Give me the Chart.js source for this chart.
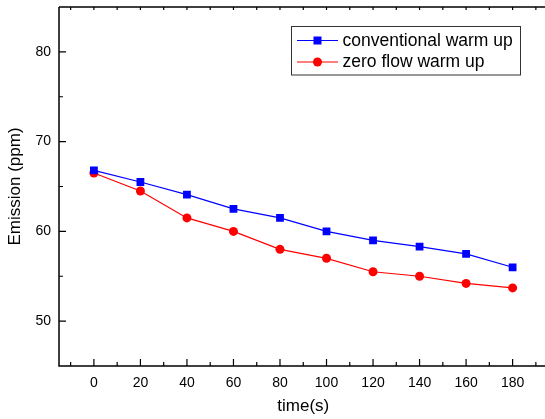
<!DOCTYPE html>
<html>
<head>
<meta charset="utf-8">
<script src="https://cdn.jsdelivr.net/npm/chart.js@4.4.1/dist/chart.umd.min.js"></script>
<style>
  html, body { margin: 0; padding: 0; background: #fff; overflow: hidden; }
</style>
</head>
<body>
<canvas id="graphique" width="553" height="419"></canvas>
<script>
// Données
const temps = [0, 20, 40, 60, 80, 100, 120, 140, 160, 180];
const conventionnel = [66.8, 65.5, 64.1, 62.5, 61.5, 60.0, 59.0, 58.3, 57.5, 56.0];
const debitNul = [66.5, 64.5, 61.5, 60.0, 58.0, 57.0, 55.5, 55.0, 54.2, 53.7];

const xTicks = [0, 20, 40, 60, 80, 100, 120, 140, 160, 180];
const xMinor = [-10, 10, 30, 50, 70, 90, 110, 130, 150, 170, 190];
const yTicks = [50, 60, 70, 80];
const yMinor = [55, 65, 75];

const POLICE = "'Liberation Sans', Arial, sans-serif";
const BLEU = '#0000ff';
const ROUGE = '#ff0000';

// Cadre, graduations vers l'intérieur et légende
const cadre = {
  id: 'cadre',
  afterDraw(chart) {
    const ctx = chart.ctx;
    const a = chart.chartArea;
    const x = chart.scales.x, y = chart.scales.y;
    ctx.save();
    ctx.strokeStyle = '#000';
    ctx.lineWidth = 1.5;
    ctx.beginPath();
    ctx.moveTo(a.left, a.top); ctx.lineTo(a.right, a.top);
    ctx.moveTo(a.left, a.top); ctx.lineTo(a.left, a.bottom);
    ctx.moveTo(a.left - 0.75, a.bottom); ctx.lineTo(a.right, a.bottom);
    ctx.stroke();

    ctx.lineWidth = 1.2;
    ctx.beginPath();
    xTicks.forEach(v => { const p = x.getPixelForValue(v); ctx.moveTo(p, a.bottom); ctx.lineTo(p, a.bottom - 7); });
    xMinor.forEach(v => { const p = x.getPixelForValue(v); ctx.moveTo(p, a.bottom); ctx.lineTo(p, a.bottom - 4); });
    xTicks.concat(xMinor).forEach(v => { const p = x.getPixelForValue(v); ctx.moveTo(p, a.top); ctx.lineTo(p, a.top + 3); });
    yTicks.forEach(v => { const p = y.getPixelForValue(v); ctx.moveTo(a.left, p); ctx.lineTo(a.left + 7, p); });
    yMinor.forEach(v => { const p = y.getPixelForValue(v); ctx.moveTo(a.left, p); ctx.lineTo(a.left + 4, p); });
    ctx.stroke();

    // légende
    ctx.lineWidth = 1;
    ctx.strokeStyle = '#333';
    ctx.fillStyle = '#fff';
    ctx.fillRect(291.5, 26.5, 229, 48.5);
    ctx.strokeRect(291.5, 26.5, 229, 48.5);
    const lignes = [
      { label: 'conventional warm up', couleur: BLEU, carre: true, y: 40.5 },
      { label: 'zero flow warm up', couleur: ROUGE, carre: false, y: 62 },
    ];
    lignes.forEach(l => {
      ctx.strokeStyle = l.couleur;
      ctx.lineWidth = 1.2;
      ctx.beginPath(); ctx.moveTo(297, l.y); ctx.lineTo(338, l.y); ctx.stroke();
      ctx.fillStyle = l.couleur;
      if (l.carre) { ctx.fillRect(313.5, l.y - 4, 8, 8); }
      else { ctx.beginPath(); ctx.arc(317.5, l.y, 4.5, 0, Math.PI * 2); ctx.fill(); }
      ctx.fillStyle = '#000';
      ctx.font = '17.5px ' + POLICE;
      ctx.textBaseline = 'middle';
      ctx.textAlign = 'left';
      ctx.fillText(l.label, 342.5, l.y + 0.5);
    });
    ctx.restore();
  }
};

const ctx = document.getElementById('graphique').getContext('2d');
new Chart(ctx, {
  type: 'line',
  data: {
    labels: temps,
    datasets: [{
      label: 'conventional warm up',
      data: temps.map((t, i) => ({ x: t, y: conventionnel[i] })),
      borderColor: BLEU,
      backgroundColor: BLEU,
      borderWidth: 1.2,
      pointStyle: 'rect',
      pointRadius: 5.5,
      pointBorderWidth: 0,
      tension: 0,
    }, {
      label: 'zero flow warm up',
      data: temps.map((t, i) => ({ x: t, y: debitNul[i] })),
      borderColor: ROUGE,
      backgroundColor: ROUGE,
      borderWidth: 1.2,
      pointStyle: 'circle',
      pointRadius: 4.5,
      pointBorderWidth: 0,
      tension: 0,
    }]
  },
  options: {
    responsive: false,
    animation: false,
    layout: { padding: { top: 7, right: 2, left: 0, bottom: 0 } },
    plugins: { legend: { display: false }, tooltip: { enabled: false } },
    scales: {
      x: {
        type: 'linear',
        min: -15, max: 195,
        afterBuildTicks: s => { s.ticks = xTicks.map(v => ({ value: v })); },
        afterFit: s => { s.height = 53; s.paddingLeft = 0; s.paddingRight = 0; },
        grid: { display: false, drawTicks: false },
        border: { display: false },
        ticks: { color: '#000', padding: 9, maxRotation: 0, font: { family: POLICE, size: 14 } },
        title: { display: true, text: 'time(s)', color: '#000', padding: { top: 0, bottom: 2 }, font: { family: POLICE, size: 17 } }
      },
      y: {
        min: 45, max: 85,
        afterBuildTicks: s => { s.ticks = yTicks.map(v => ({ value: v })); },
        afterFit: s => { s.width = 59; s.paddingTop = 0; s.paddingBottom = 0; },
        grid: { display: false, drawTicks: false },
        border: { display: false },
        ticks: { color: '#000', padding: 8, font: { family: POLICE, size: 14 } },
        title: { display: true, text: 'Emission (ppm)', color: '#000', padding: { top: 5, bottom: 0 }, font: { family: POLICE, size: 17 } }
      }
    }
  },
  plugins: [cadre]
});
</script>
</body>
</html>
